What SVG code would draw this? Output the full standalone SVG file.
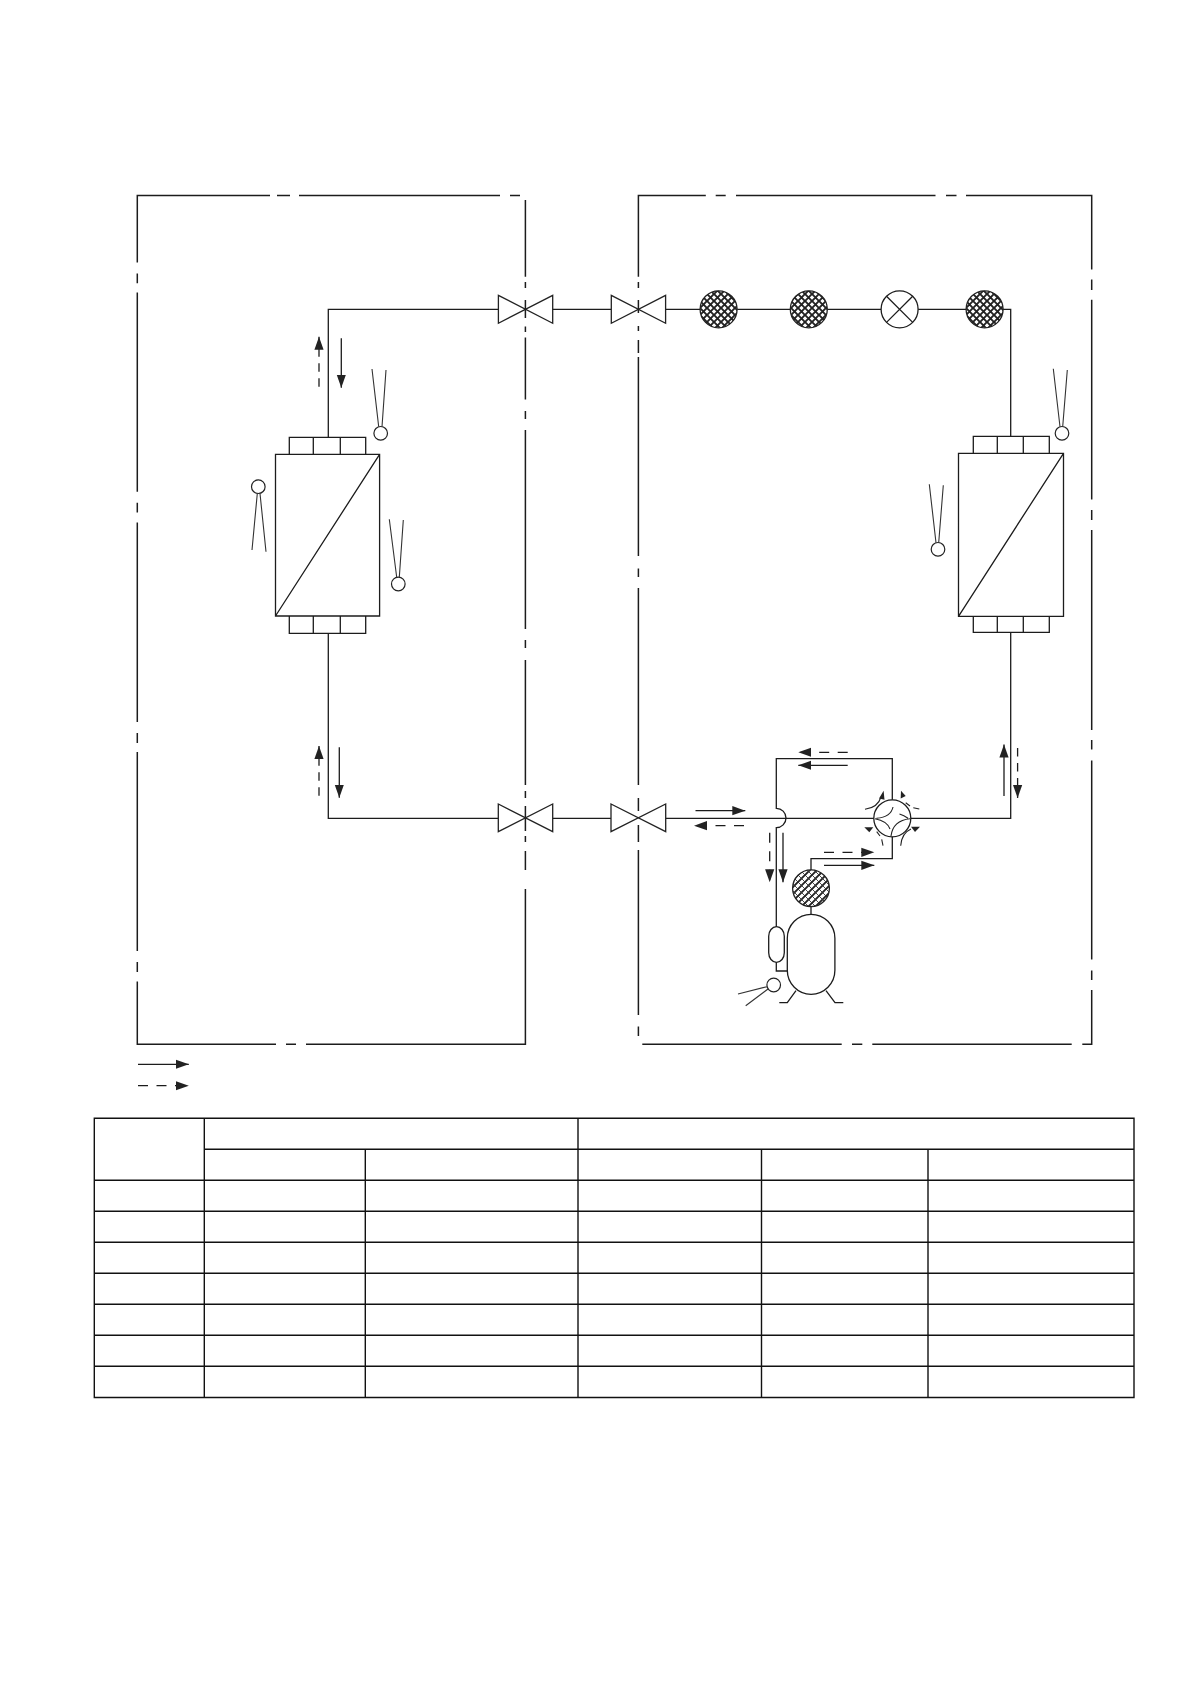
<svg xmlns="http://www.w3.org/2000/svg" width="1190" height="1684" viewBox="0 0 1190 1684">
<style>
.l{fill:none;stroke:#1c1c1c;stroke-width:1.3}
.b{fill:none;stroke:#1c1c1c;stroke-width:1.5}
.t{fill:none;stroke:#111;stroke-width:1.4}
.s{fill:none;stroke:#333;stroke-width:1.1}
.v{fill:none;stroke:#222;stroke-width:1.3}
.c{fill:#fff;stroke:#222;stroke-width:1.2}
.h{fill:#222}
.d{stroke-dasharray:10 8.5}
.dv{stroke-dasharray:8.5 6.5}
.a{marker-end:url(#head)}
</style>
<defs>
<marker id="head" markerUnits="userSpaceOnUse" markerWidth="14" markerHeight="10" refX="13" refY="5" orient="auto">
<path d="M0,0.4 L13,5 L0,9.6 Z" fill="#222"/>
</marker>
<pattern id="cross" patternUnits="userSpaceOnUse" width="7" height="7">
<rect width="7" height="7" fill="#fff"/>
<path d="M-1,-1 L8,8 M8,-1 L-1,8" stroke="#222" stroke-width="1.9"/>
</pattern>
<pattern id="hatch" patternUnits="userSpaceOnUse" width="7" height="7">
<rect width="7" height="7" fill="#fff"/>
<path d="M-1,8 L8,-1 M-4.5,4.5 L4.5,-4.5 M2.5,11.5 L11.5,2.5" stroke="#222" stroke-width="1.9"/>
<path d="M-1,-1 L8,8" stroke="#333" stroke-width="0.9"/>
</pattern>
</defs>
<rect width="1190" height="1684" fill="#fff"/>

<g id="indoor-boundary">
<path class="b" d="M270,195.5 H137.3 V262.4 M137.3,273.4 V283.3 M137.3,292.6 V491.7 M137.3,502.7 V512.5 M137.3,522.4 V722 M137.3,733 V743 M137.3,752 V951 M137.3,962 V972 M137.3,981.5 V1044.3 H276 M286,1044.3 H296 M306,1044.3 H525.4 V889 M277,195.5 H290 M299,195.5 H500 M510,195.5 H520"/>
<path class="b" d="M525.4,200 V276.7 M525.4,282 V288 M525.4,300 V318 M525.4,326.5 V332 M525.4,337.5 V399.5 M525.4,411 V419 M525.4,430 V629 M525.4,640 V648 M525.4,660 V785 M525.4,791 V798 M525.4,806 V831 M525.4,836 V842 M525.4,851 V870"/>
</g>
<g id="outdoor-boundary">
<path class="b" d="M705.8,195.5 H638.4 V276.7 M638.4,282 V288 M638.4,300 V313 M638.4,326 V331 M638.4,340 V353 M638.4,357 V556 M638.4,568.5 V577 M638.4,588 V785 M638.4,798 V811 M638.4,825 V842 M638.4,850 V1015 M638.4,1026.5 V1036 M715.7,195.5 H725.7 M736,195.5 H935.5 M946,195.5 H956.5 M966,195.5 H1091.7 V269.5 M1091.7,279.4 V290 M1091.7,299.7 V499.5 M1091.7,510 V520 M1091.7,530 V730 M1091.7,740 V749.5 M1091.7,760.5 V959.6 M1091.7,970.6 V980 M1091.7,990 V1044.3 H1082.3 M1071.7,1044.3 H872.3 M862.3,1044.3 H852 M841.7,1044.3 H642.3"/>
</g>

<g id="connectors">
<path class="l" d="M498.4,309.3 H328.3 V437.3"/>
<path class="l" d="M328.3,633.3 V818.3 H498.3"/>
<path class="l" d="M552.7,309.3 H611.3 M665.6,309.3 H700 M737.2,309.3 H790 M827.5,309.3 H881 M918.2,309.3 H966 M1003,309.3 H1010.7 V436.3"/>
<path class="l" d="M1010.7,632.3 V818.3 H910.8"/>
<path class="l" d="M552.7,818.3 H611 M665.7,818.3 H873.8"/>
<path class="l" d="M892.3,799.8 V758.7 H776.3 V808.3 A9.7,9.7 0 0 1 776.3,827.7 V926.7"/>
<path class="l" d="M892.3,836.8 V858.7 H811 V870"/>
<path class="l" d="M811,906.7 V914.3"/>
<path class="l" d="M776.3,962.3 V971 H787.3"/>
<path class="l a" d="M341.3,338.3 V387.7"/>
<path class="l a dv" d="M319,386.7 V336.7"/>
<path class="l a" d="M339.3,747.3 V797.7"/>
<path class="l a dv" d="M319,795.7 V746"/>
<path class="l a" d="M1004,796 V744.5"/>
<path class="l a dv" d="M1017.6,748 V798"/>
<path class="l a" d="M847.7,765.3 H798.3"/>
<path class="l d a" d="M847.7,752.3 H798.3"/>
<path class="l a" d="M695.5,810.7 H745.3"/>
<path class="l d a" d="M744,825.7 H694"/>
<path class="l a" d="M783,832.7 V882.3"/>
<path class="l d a" d="M769.7,832.7 V882.3"/>
<path class="l a" d="M824,865.3 H874.3"/>
<path class="l d a" d="M824,852.3 H874.3"/>
<path class="l a" d="M138,1064.3 H188.8"/>
<path class="l d a" d="M138,1085.7 H188.8"/>
</g>

<g id="valve-indoor-liquid"><path class="v" d="M498.4,295.3 L552.7,323.3 V295.3 L498.4,323.3 Z"/></g>
<g id="valve-outdoor-liquid"><path class="v" d="M611.3,295.3 L665.6,323.3 V295.3 L611.3,323.3 Z"/></g>
<g id="valve-indoor-gas"><path class="v" d="M498.3,804 L552.7,831.7 V804 L498.3,831.7 Z"/></g>
<g id="valve-outdoor-gas"><path class="v" d="M611,804 L665.7,831.7 V804 L611,831.7 Z"/></g>

<g id="filter-1"><circle cx="718.6" cy="309.3" r="18.5" fill="url(#cross)" stroke="#222" stroke-width="1.3"/></g>
<g id="filter-2"><circle cx="808.8" cy="309.3" r="18.5" fill="url(#cross)" stroke="#222" stroke-width="1.3"/></g>
<g id="expansion-valve"><circle class="l" cx="899.6" cy="309.3" r="18.5"/><path class="l" d="M886.5,296.2 L912.7,322.4 M912.7,296.2 L886.5,322.4"/></g>
<g id="filter-3"><circle cx="984.6" cy="309.3" r="18.5" fill="url(#cross)" stroke="#222" stroke-width="1.3"/></g>

<g id="indoor-coil">
<path class="l" d="M275.5,454.3 H379.6 V616 H275.5 Z M275.5,616 L379.6,454.3 M289.3,454.3 V437.3 H365.7 V454.3 M313.3,437.3 V454.3 M340.3,437.3 V454.3 M289.3,616 V633.3 H365.7 V616 M313.3,616 V633.3 M340.3,616 V633.3"/>
</g>
<g id="outdoor-coil">
<path class="l" d="M958.5,453.3 H1063.5 V616.3 H958.5 Z M958.5,616.3 L1063.5,453.3 M973.3,453.3 V436.3 H1049.3 V453.3 M997.3,436.3 V453.3 M1023.3,436.3 V453.3 M973.3,616.3 V632.3 H1049.3 V616.3 M997.3,616.3 V632.3 M1023.3,616.3 V632.3"/>
</g>

<g id="sensor-indoor-pipe"><circle class="c" cx="380.7" cy="433.3" r="6.8"/><path class="s" d="M378.7,426.7 L372,369 M382,426.7 L386,370"/></g>
<g id="sensor-indoor-air"><circle class="c" cx="258.3" cy="486.7" r="6.8"/><path class="s" d="M257.3,493.5 L252,550 M260,493.5 L266,551.7"/></g>
<g id="sensor-indoor-mid"><circle class="c" cx="398.3" cy="584" r="6.8"/><path class="s" d="M396.7,577.3 L389.3,519.3 M399.3,577.3 L403.3,520"/></g>
<g id="sensor-outdoor-pipe"><circle class="c" cx="1062" cy="433.3" r="6.8"/><path class="s" d="M1060,426.7 L1053.3,368.7 M1062.7,426.7 L1067.3,370"/></g>
<g id="sensor-outdoor-air"><circle class="c" cx="938" cy="549.3" r="6.8"/><path class="s" d="M936,542.7 L929.3,484.3 M938.7,542.7 L943.3,485.3"/></g>

<g id="four-way-valve">
<circle class="l" cx="892.3" cy="818.3" r="18.5"/>
<path class="v" style="stroke-width:1.1" d="M893,807 Q891,817 876.5,818.3 M899.5,814 Q904,815.5 908,818.3 M910,818.8 Q893,820.5 891,836 M875,818.8 Q887,821 890,829"/>
<path class="v" style="stroke-width:1.1" d="M865,809.3 Q878,807.5 881,797"/>
<polygon class="h" points="883.6,790.7 879,798.5 884.5,799.7"/>
<path class="v" style="stroke-width:1.1" d="M905.7,802.7 L910,806 M913.3,807.7 L919.3,809"/>
<polygon class="h" points="901,790.7 900.7,798.5 905.7,796"/>
<path class="v" style="stroke-width:1.1" d="M876.7,831.7 L880,836 M881.7,839.3 L883,845.7"/>
<polygon class="h" points="864.3,827.3 873.3,827.3 869.3,832.3"/>
<path class="v" style="stroke-width:1.1" d="M900.7,845.7 Q901.7,833 911,829"/>
<polygon class="h" points="920,826.7 911,826.7 915,832"/>
</g>

<g id="oil-separator"><circle cx="811" cy="888.3" r="18.4" fill="url(#hatch)" stroke="#222" stroke-width="1.3"/></g>
<g id="accumulator"><rect class="l" x="768.7" y="926.7" width="15.6" height="35.6" rx="7.8" ry="9.5"/></g>
<g id="compressor">
<rect class="l" x="787.3" y="914.3" width="47.6" height="80" rx="23.8" ry="24"/>
<path class="l" d="M796,990.7 L787.3,1002.7 H779.3 M826,990.7 L835,1002.7 H843.3"/>
</g>
<g id="sensor-compressor"><circle class="c" cx="773.7" cy="985" r="6.8"/><path class="s" d="M766.9,986.7 L738,994 M768,989 L745.7,1005.7"/></g>

<g id="table">
<path class="t" d="M94.3,1118.3 H1134 V1397.5 H94.3 Z M204.3,1149.3 H1134 M94.3,1180.3 H1134 M94.3,1211.3 H1134 M94.3,1242.3 H1134 M94.3,1273.3 H1134 M94.3,1304.3 H1134 M94.3,1335.3 H1134 M94.3,1366.3 H1134 M204.3,1118.3 V1397.5 M578,1118.3 V1397.5 M365.3,1149.3 V1397.5 M761.5,1149.3 V1397.5 M928,1149.3 V1397.5"/>
</g>
</svg>
